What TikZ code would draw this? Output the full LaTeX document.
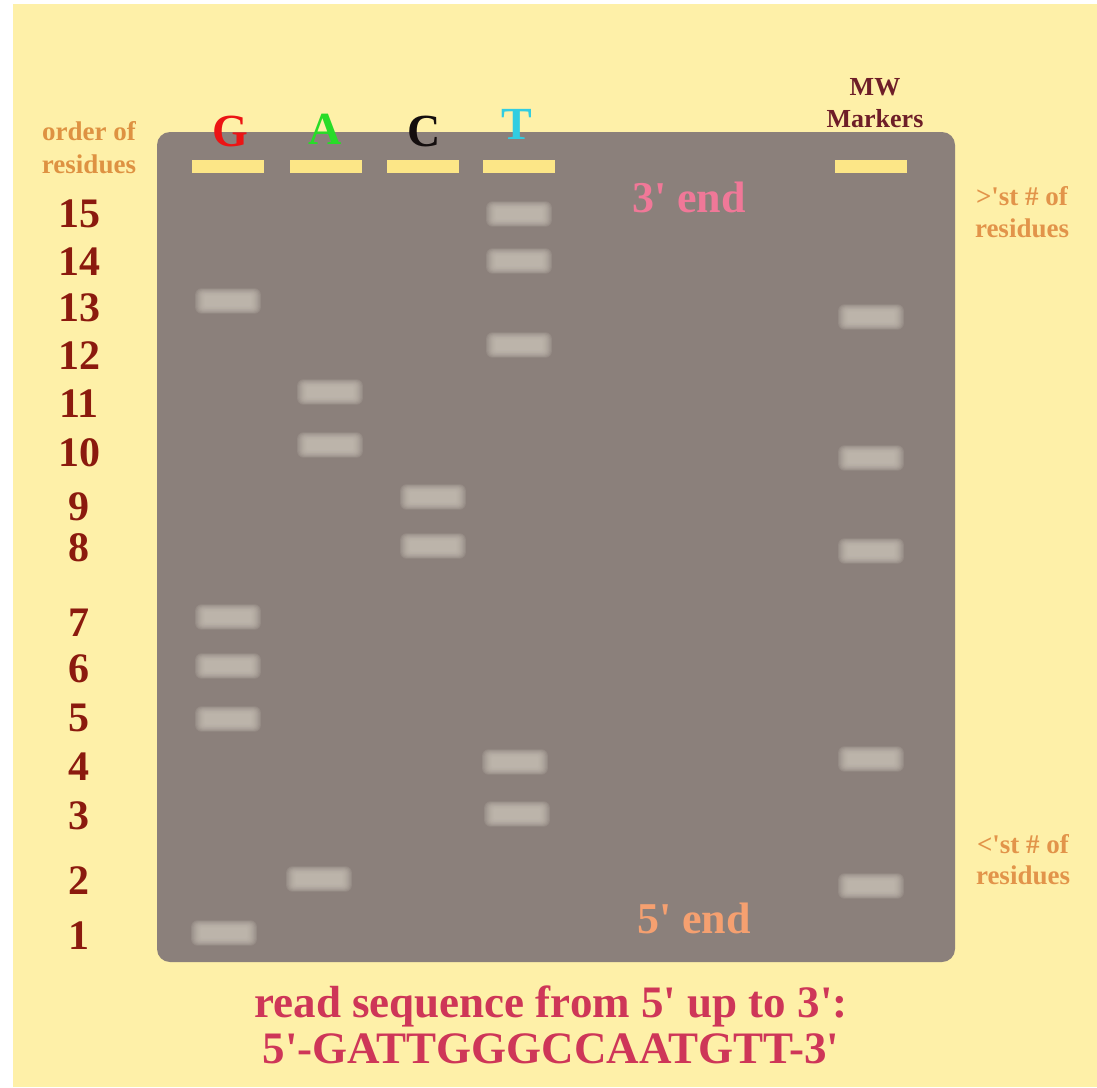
\documentclass[tikz,border=0pt]{standalone}
\usepackage{fontspec}
\setmainfont{Liberation Serif}
\definecolor{bgc}{RGB}{254,240,168}
\definecolor{gelc}{RGB}{139,128,123}
\definecolor{wellc}{RGB}{252,230,135}
\definecolor{bandc}{RGB}{198,190,180}
\definecolor{ordc}{RGB}{222,146,66}
\definecolor{numc}{RGB}{139,26,14}
\definecolor{gc}{RGB}{236,20,20}
\definecolor{ac}{RGB}{40,220,40}
\definecolor{cc}{RGB}{20,14,14}
\definecolor{tc}{RGB}{50,205,225}
\definecolor{mwc}{RGB}{110,30,40}
\definecolor{threec}{RGB}{240,120,152}
\definecolor{fivec}{RGB}{245,160,112}
\definecolor{sidec}{RGB}{226,148,74}
\definecolor{botc}{RGB}{206,54,88}
\newcommand{\q}{\textquotesingle}
\newcommand{\myband}[2]{%
 \foreach \k in {0,...,9} {
   \fill[bandc, opacity=0.18, rounded corners={2+0.5*\k}]
     ({#1-23-1.1*\k},{#2-5.5-0.8*\k}) rectangle ({#1+23+1.1*\k},{#2+5.5+0.8*\k});
 }
}
\begin{document}
\begin{tikzpicture}[x=1pt,y=-1pt,
  txt/.style={inner sep=0pt, anchor=base, font=\bfseries}]
\useasboundingbox (0,0) rectangle (1097,1087);
\fill[white] (0,0) rectangle (1097,1087);
\fill[bgc] (13,4) rectangle (1097,1087);
% gel
\fill[gelc, rounded corners=13pt] (157,132) rectangle (955,962);
% wells
\foreach \x in {192,290,387,483,835} {
  \fill[wellc] (\x,160) rectangle ({\x+72},173);
}
% bands G
\foreach \y in {301,617,666,719} {\myband{228}{\y}}
\myband{224}{933}
% bands A
\myband{330}{392}
\myband{330}{445}
\myband{319}{879}
% bands C
\myband{433}{497}
\myband{433}{546}
% bands T
\myband{519}{214}
\myband{519}{261}
\myband{519}{345}
\myband{515}{762}
\myband{517}{814}
% MW
\foreach \y in {317,458,551,759,886} {\myband{871}{\y}}
% lane headers
\node[txt, text=gc, font=\bfseries\fontsize{46}{46}\selectfont] (hG) at (230,146) {G};
\node[txt, text=ac, font=\bfseries\fontsize{46}{46}\selectfont] (hA) at (325,144) {A};
\node[txt, text=cc, font=\bfseries\fontsize{46}{46}\selectfont] (hC) at (424,146) {C};
\node[txt, text=tc, font=\bfseries\fontsize{46}{46}\selectfont] (hT) at (517,139) {T};
\node[txt, text=mwc, font=\bfseries\fontsize{26}{26}\selectfont] (mw1) at (875,95) {MW};
\node[txt, text=mwc, font=\bfseries\fontsize{26}{26}\selectfont] (mw2) at (875,127) {Markers};
% order of residues
\node[txt, text=ordc, font=\bfseries\fontsize{27}{27}\selectfont] (ord1) at (89,140) {order of};
\node[txt, text=ordc, font=\bfseries\fontsize{27}{27}\selectfont] (ord2) at (89,173) {residues};
% numbers
\foreach \n/\yy in {15/227,14/275,13/321,12/369,11/417,10/466,9/520,8/561,7/636,6/682,5/731,4/780,3/829,2/894,1/949} {
  \node[txt, text=numc, font=\bfseries\fontsize{42}{42}\selectfont] (num\n) at (79,\yy) {\n};
}
% ends
\node[txt, text=threec, font=\bfseries\fontsize{44}{44}\selectfont] (end3) at (689,212) {3\q{} end};
\node[txt, text=fivec, font=\bfseries\fontsize{44}{44}\selectfont] (end5) at (694,933) {5\q{} end};
% side labels
\node[txt, text=sidec, font=\bfseries\fontsize{27}{27}\selectfont] (gt1) at (1022,205) {>\q{}st \# of};
\node[txt, text=sidec, font=\bfseries\fontsize{27}{27}\selectfont] (gt2) at (1022,237) {residues};
\node[txt, text=sidec, font=\bfseries\fontsize{27}{27}\selectfont] (lt1) at (1023,853) {<\q{}st \# of};
\node[txt, text=sidec, font=\bfseries\fontsize{27}{27}\selectfont] (lt2) at (1023,884) {residues};
% bottom
\node[txt, text=botc, font=\bfseries\fontsize{45}{45}\selectfont] (read1) at (551,1017) {read sequence from 5\q{} up to 3\q{}:};
\node[txt, text=botc, font=\bfseries\fontsize{45}{45}\selectfont] (read2) at (551,1063) {5\q{}-GATTGGGCCAATGTT-3\q{}};
\end{tikzpicture}
\end{document}
